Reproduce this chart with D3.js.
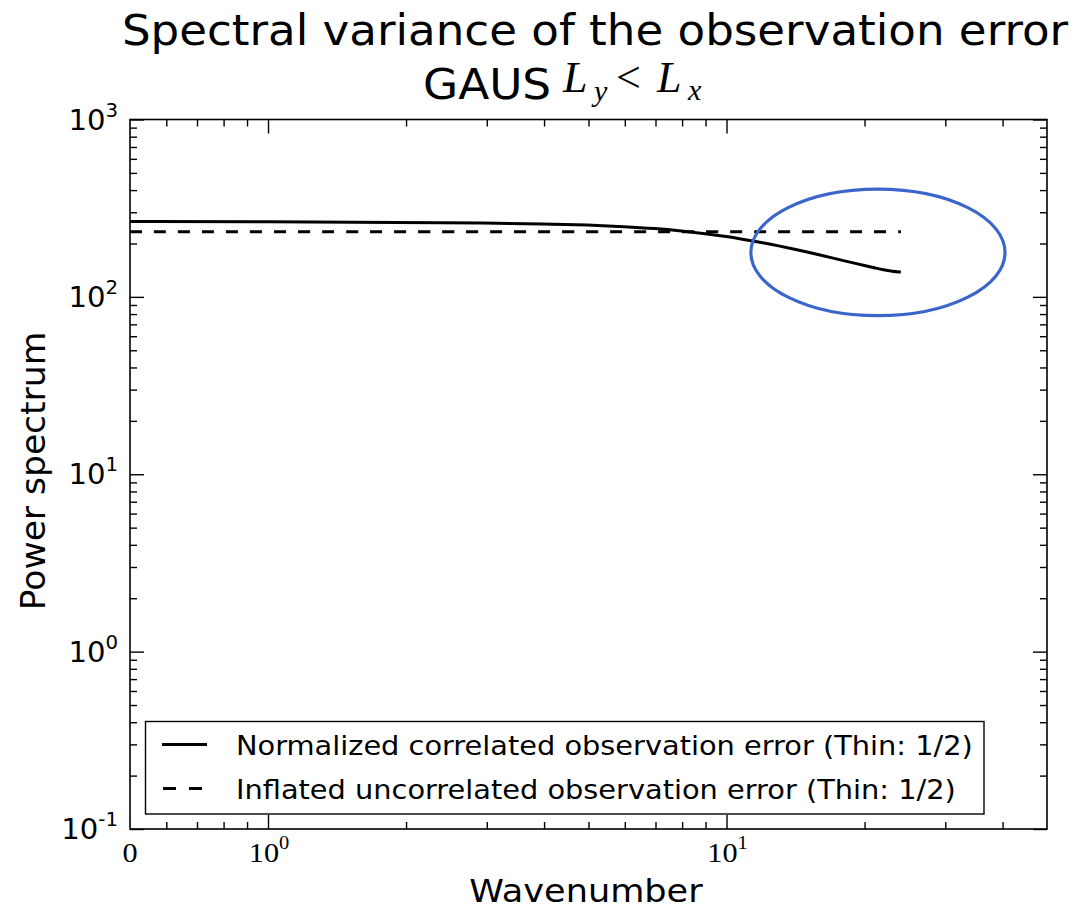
<!DOCTYPE html>
<html><head><meta charset="utf-8">
<script src="https://cdn.jsdelivr.net/npm/d3@7/dist/d3.min.js"></script>
<style>body{margin:0;background:#fff} svg{display:block}</style>
</head><body><svg id="c" width="1073" height="911"></svg>
<script>
// ---------- data ----------
const wavenumbers = [0,1,2,3,4,5,6,7,8,9,10,11,12,13,14,15,16,17,18,19,20,21,22,23,24];
const correlatedError = [266,265,263,261,258,254,249,243,235,227,219,210,202,194,186,179,172,166,160,155,150,146,142,139.5,138];
const inflatedError = [233,233,233,233,233,233,233,233,233,233,233,233,233,233,233,233,233,233,233,233,233,233,233,233,233];
const seriesLabels = ["Normalized correlated observation error (Thin: 1/2)", "Inflated uncorrelated observation error (Thin: 1/2)"];
const titleLine1 = "Spectral variance of the observation error";
const titlePrefix = "GAUS";
const xLabel = "Wavenumber";
const yLabel = "Power spectrum";
const yTickExponents = [-1,0,1,2,3];
const xTickExponents = [0,1];
const xZeroLabel = "0";
const highlightBox = {x0: 11.3, x1: 40.5, y0: 78.3, y1: 405};

// ---------- setup ----------
const svg = d3.select("#c");
const L = 130, R = 1047, T = 119.5, B = 829;
const SX = 1.08;
const x = d3.scaleLog().domain([0.5, 50]).range([L, R]);
const y = d3.scaleLog().domain([0.1, 1000]).range([B, T]);
const sans = "'DejaVu Sans', sans-serif";
const serif = "'Liberation Serif', 'DejaVu Serif', serif";

function txt(px, py, size, family, anchor, rot, sx) {
  return svg.append("text")
    .attr("transform", `translate(${px},${py})` + (rot ? ` rotate(${rot})` : "") + ` scale(${sx || SX},1)`)
    .attr("font-size", size).attr("font-family", family)
    .attr("text-anchor", anchor || "start").attr("fill", "#000");
}

// minor tick values
const yMinor = [];
yTickExponents.slice(0, -1).forEach(e => { for (let m = 2; m <= 9; m++) yMinor.push(m * Math.pow(10, e)); });
const xMinor = [0.6,0.7,0.8,0.9,2,3,4,5,6,7,8,9,20,30,40];
const yMajor = yTickExponents.map(e => Math.pow(10, e));
const xMajor = xTickExponents.map(e => Math.pow(10, e));

function styleAxis(g) {
  g.select(".domain").remove();
  g.selectAll(".tick line").attr("stroke", "#000").attr("stroke-width", 1.4);
  g.selectAll(".tick text").remove();
}
svg.append("g").attr("transform", `translate(${L},0)`).call(d3.axisLeft(y).tickValues(yMajor).tickSize(-14)).call(styleAxis);
svg.append("g").attr("transform", `translate(${L},0)`).call(d3.axisLeft(y).tickValues(yMinor).tickSize(-7)).call(styleAxis);
svg.append("g").attr("transform", `translate(${R},0)`).call(d3.axisRight(y).tickValues(yMajor).tickSize(-14)).call(styleAxis);
svg.append("g").attr("transform", `translate(${R},0)`).call(d3.axisRight(y).tickValues(yMinor).tickSize(-7)).call(styleAxis);
svg.append("g").attr("transform", `translate(0,${B})`).call(d3.axisBottom(x).tickValues(xMajor).tickSize(-14)).call(styleAxis);
svg.append("g").attr("transform", `translate(0,${B})`).call(d3.axisBottom(x).tickValues(xMinor).tickSize(-7)).call(styleAxis);
svg.append("g").attr("transform", `translate(0,${T})`).call(d3.axisTop(x).tickValues(xMajor).tickSize(-14)).call(styleAxis);
svg.append("g").attr("transform", `translate(0,${T})`).call(d3.axisTop(x).tickValues(xMinor).tickSize(-7)).call(styleAxis);

// frame
svg.append("rect").attr("x", L).attr("y", T).attr("width", R - L).attr("height", B - T)
  .attr("fill", "none").attr("stroke", "#000").attr("stroke-width", 1.6);

// y tick labels
yTickExponents.forEach(e => {
  const t = txt(118, y(Math.pow(10, e)) + 10, 28, sans, "end", 0, 1.04);
  t.append("tspan").text("10");
  t.append("tspan").attr("dy", -13).attr("font-size", 19).text(String(e));
});
// x tick labels
xTickExponents.forEach(e => {
  const t = txt(x(Math.pow(10, e)) + 1, 862, 28, serif, "middle");
  t.append("tspan").text("10");
  t.append("tspan").attr("dy", -13).attr("font-size", 19).text(String(e));
});
txt(x(0.5), 862, 28, serif, "middle").text(xZeroLabel);

// lines
const pts = (vals) => wavenumbers.map((k, i) => ({k, v: vals[i]}));
const line = d3.line().x(d => x(Math.max(d.k, 0.5))).y(d => y(d.v)).curve(d3.curveBasis);
svg.append("path").datum(pts(correlatedError)).attr("d", line)
  .attr("fill", "none").attr("stroke", "#000").attr("stroke-width", 3);
svg.append("path").datum(pts(inflatedError)).attr("d", line)
  .attr("fill", "none").attr("stroke", "#000").attr("stroke-width", 3).attr("stroke-dasharray", "12,12");

// highlight ellipse
const ex0 = x(highlightBox.x0), ex1 = x(highlightBox.x1), ey0 = y(highlightBox.y1), ey1 = y(highlightBox.y0);
svg.append("ellipse").attr("cx", (ex0 + ex1) / 2).attr("cy", (ey0 + ey1) / 2)
  .attr("rx", (ex1 - ex0) / 2).attr("ry", (ey1 - ey0) / 2)
  .attr("fill", "none").attr("stroke", "#3a66cc").attr("stroke-width", 3.2);

// legend
const lg = {x: 145.5, y: 721.5, w: 838.5, h: 92.5};
svg.append("rect").attr("x", lg.x).attr("y", lg.y).attr("width", lg.w).attr("height", lg.h)
  .attr("fill", "#fff").attr("stroke", "#000").attr("stroke-width", 1.4);
const rowsY = [744.5, 788.5];
svg.append("line").attr("x1", 162).attr("x2", 207).attr("y1", rowsY[0]).attr("y2", rowsY[0])
  .attr("stroke", "#000").attr("stroke-width", 3);
svg.append("line").attr("x1", 163).attr("x2", 207).attr("y1", rowsY[1]).attr("y2", rowsY[1])
  .attr("stroke", "#000").attr("stroke-width", 3).attr("stroke-dasharray", "13,13");
seriesLabels.forEach((s, i) => txt(236, rowsY[i] + 10, 26.7, sans, "start").text(s));

// titles
txt(595, 45, 41.8, sans, "middle").text(titleLine1);
txt(423, 99, 42, sans, "start").text(titlePrefix);
const mathParts = [
  {t: "L", x: 563, y: 92, s: 44, it: true},
  {t: "y", x: 594, y: 101, s: 30, it: true},
  {t: "<", x: 616, y: 92, s: 44, it: false},
  {t: "L", x: 657, y: 92, s: 44, it: true},
  {t: "x", x: 688, y: 100, s: 30, it: true}
];
mathParts.forEach(p => txt(p.x, p.y, p.s, serif, "start", 0, 1.0)
  .attr("font-style", p.it ? "italic" : "normal").text(p.t));

// axis labels
txt(586, 902, 32.5, sans, "middle").text(xLabel);
txt(45, 471, 34.5, sans, "middle", -90, 1.0).text(yLabel);
</script></body></html>
